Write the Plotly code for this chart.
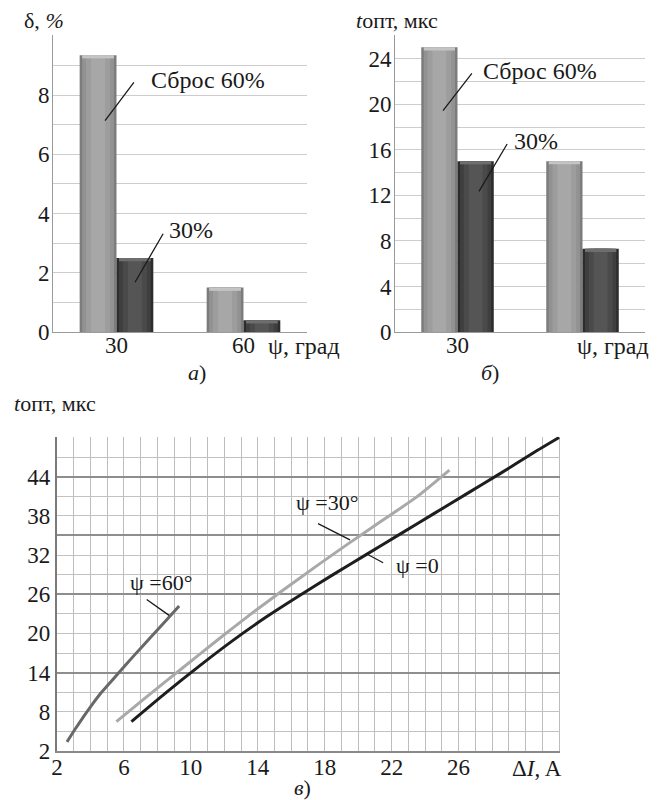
import plotly.graph_objects as go

# ---- data -------------------------------------------------------------
psi_pos = [0, 1]                 # bar group positions (ψ = 30°, 60°)
psi_labels = ["30", "60"]

delta_reset60 = [9.35, 1.5]      # δ, % — сброс 60%
delta_reset30 = [2.5, 0.4]       # δ, % — сброс 30%

topt_reset60 = [25.0, 15.0]      # t_опт, мкс — сброс 60%
topt_reset30 = [15.0, 7.3]       # t_опт, мкс — сброс 30%

psi0_x = [6.45, 8.5, 10.5, 12.5, 14.5, 16.5, 18.5, 20.5, 22.5, 24.5, 26.5, 28.5, 30.5, 32.0]
psi0_y = [6.5, 10.9, 15.0, 18.9, 22.5, 25.8, 29.0, 32.1, 35.2, 38.3, 41.4, 44.5, 47.7, 50.0]

psi30_x = [5.55, 7.5, 9.5, 11.5, 13.5, 15.5, 17.5, 19.5, 21.5, 23.5, 25.45]
psi30_y = [6.5, 10.6, 14.7, 18.8, 22.8, 26.6, 30.3, 33.9, 37.4, 40.9, 45.0]

psi60_x = [2.6, 3.1, 3.6, 4.1, 4.6, 5.6, 6.6, 7.6, 8.6, 9.3]
psi60_y = [3.4, 5.4, 7.3, 9.1, 10.8, 13.7, 16.6, 19.4, 22.2, 24.2]

x_ticks_c = [2, 6, 10, 14, 18, 22, 26]
y_ticks_c = [2, 8, 14, 20, 26, 32, 38, 44]
y_heavy_c = [14, 26, 35, 44]

# ---- styling ----------------------------------------------------------
FONT = "Times New Roman"
TXT = "#1a1a1a"
BAR_W = 0.29
LAYER_W = [0.29, 0.25, 0.19, 0.11]
LIGHT_PAL = ["#7c7c7c", "#929292", "#9d9d9d", "#a7a7a7"]
DARK_PAL = ["#2c2c2c", "#3f3f3f", "#4a4a4a", "#555555"]
LIGHT_CAP = "#c4c4c4"
DARK_CAP = "#6e6e6e"

fig = go.Figure()


def shaded_bars(xs, ys, shift, palette, cap_color, cap_h, xa, ya):
    """Bars built from nested layers, with a lighter rim on top."""
    for w, c in zip(LAYER_W, palette):
        fig.add_trace(go.Bar(
            x=xs, y=ys, width=w, offset=shift - w / 2,
            marker=dict(color=c, line=dict(width=0)),
            xaxis=xa, yaxis=ya, hoverinfo="skip", showlegend=False))
    w = LAYER_W[1]
    fig.add_trace(go.Bar(
        x=xs, y=[cap_h] * len(ys), base=[v - cap_h for v in ys],
        width=w, offset=shift - w / 2,
        marker=dict(color=cap_color, line=dict(width=0)),
        xaxis=xa, yaxis=ya, hoverinfo="skip", showlegend=False))


shaded_bars(psi_pos, delta_reset60, -BAR_W / 2, LIGHT_PAL, LIGHT_CAP, 0.11, "x", "y")
shaded_bars(psi_pos, delta_reset30, BAR_W / 2, DARK_PAL, DARK_CAP, 0.11, "x", "y")
shaded_bars(psi_pos, topt_reset60, -BAR_W / 2, LIGHT_PAL, LIGHT_CAP, 0.28, "x2", "y2")
shaded_bars(psi_pos, topt_reset30, BAR_W / 2, DARK_PAL, DARK_CAP, 0.28, "x2", "y2")

# curves of the bottom panel
for xs, ys, col in [(psi60_x, psi60_y, "#686868"),
                    (psi30_x, psi30_y, "#a9a9a9"),
                    (psi0_x, psi0_y, "#1e1e1e")]:
    fig.add_trace(go.Scatter(x=xs, y=ys, mode="lines",
                             line=dict(color=col, width=3, shape="spline", smoothing=0.6),
                             xaxis="x3", yaxis="y3", hoverinfo="skip", showlegend=False))

# carrier trace for the heavier grid axis
fig.add_trace(go.Scatter(x=[None], y=[None], xaxis="x3", yaxis="y4",
                         showlegend=False, hoverinfo="skip"))

tick_font = dict(family=FONT, size=23, color=TXT)
GRID = "#cdcdcd"
AXL = "#9a9a9a"

bar_x = dict(range=[-0.5, 1.5], tickvals=psi_pos, showgrid=False, zeroline=False,
             showline=True, linecolor=AXL, linewidth=1, ticks="",
             tickfont=tick_font, ticklabelstandoff=-8, fixedrange=True)

layout = dict(
    template="none",
    width=664, height=800,
    margin=dict(l=0, r=0, t=0, b=0),
    paper_bgcolor="white", plot_bgcolor="white",
    barmode="overlay",
    showlegend=False,
    font=dict(family=FONT, size=22, color=TXT),
    xaxis=dict(bar_x, domain=[0.0798, 0.4623], anchor="y", ticktext=psi_labels),
    xaxis2=dict(bar_x, domain=[0.5949, 0.9714], anchor="y2", ticktext=["30", ""]),
    yaxis=dict(domain=[0.585, 0.95625], anchor="x", range=[0, 10.03],
               tickvals=[0, 2, 4, 6, 8], showgrid=True, gridcolor=GRID,
               minor=dict(dtick=1, tick0=0, showgrid=True, gridcolor=GRID),
               zeroline=False, showline=True, linecolor=AXL, ticks="",
               tickfont=tick_font, ticklabelstandoff=-2),
    yaxis2=dict(domain=[0.585, 0.95625], anchor="x2", range=[0, 26.08],
                tickvals=[0, 4, 8, 12, 16, 20, 24], showgrid=True, gridcolor=GRID,
                minor=dict(dtick=2, tick0=0, showgrid=True, gridcolor=GRID),
                zeroline=False, showline=True, linecolor=AXL, ticks="",
                tickfont=tick_font, ticklabelstandoff=-2),
    xaxis3=dict(domain=[0.0858, 0.8434], anchor="y3", range=[2, 32.06],
                tickvals=x_ticks_c, showgrid=True, gridcolor="#bdbdbd",
                minor=dict(dtick=1, tick0=2, showgrid=True, gridcolor="#bdbdbd"),
                zeroline=False, showline=True, linecolor="#8a8a8a", linewidth=2,
                ticks="", tickfont=tick_font, ticklabelstandoff=-6),
    yaxis3=dict(domain=[0.06125, 0.454], anchor="x3", range=[2, 50.1],
                tickvals=y_ticks_c, showgrid=True, gridcolor="#c2c2c2",
                minor=dict(dtick=3, tick0=2, showgrid=True, gridcolor="#c2c2c2"),
                zeroline=False, showline=True, linecolor="#7a7a7a", linewidth=2,
                ticks="", tickfont=tick_font),
    yaxis4=dict(overlaying="y3", anchor="x3", range=[2, 50.1],
                tickvals=y_heavy_c, showticklabels=False, showgrid=True,
                gridcolor="#8e8e8e", gridwidth=2, zeroline=False, ticks=""),
)
fig.update_layout(**layout)

ann = []


def add_label(x, y, s, size=23, xref="paper", yref="paper"):
    ann.append(dict(x=x, y=y, xref=xref, yref=yref, text=s, showarrow=False,
                    font=dict(family=FONT, size=size, color=TXT),
                    xanchor="center", yanchor="middle"))


def leader(x0, y0, x1, y1, xref, yref):
    ann.append(dict(x=x0, y=y0, ax=x1, ay=y1, xref=xref, yref=yref,
                    axref=xref, ayref=yref, text="", showarrow=True,
                    arrowhead=0, arrowwidth=1.3, arrowcolor=TXT))


# panel а
add_label(0.72, 8.52, "Сброс 60%", 24, "x", "y")
leader(-0.09, 7.14, 0.146, 8.48, "x", "y")
add_label(0.587, 3.43, "30%", 24, "x", "y")
leader(0.146, 1.68, 0.374, 3.37, "x", "y")
add_label(0.0663, 0.975, "δ, <i>%</i>", 22)
add_label(0.458, 0.5675, "ψ, град", 24)
add_label(0.2967, 0.535, "<i>а</i>)", 22)

# panel б
add_label(0.66, 22.94, "Сброс 60%", 24, "x2", "y2")
leader(-0.116, 19.44, 0.124, 22.85, "x2", "y2")
add_label(0.624, 16.8, "30%", 24, "x2", "y2")
leader(0.172, 12.35, 0.404, 16.64, "x2", "y2")
add_label(0.598, 0.975, "<i>t</i>опт, мкс", 22)
add_label(0.923, 0.5675, "ψ, град", 24)
add_label(0.738, 0.535, "<i>б</i>)", 22)

# panel в
add_label(8.21, 27.8, "ψ =60°", 22, "x3", "y3")
leader(7.36, 25.2, 8.79, 22.6, "x3", "y3")
add_label(18.12, 40.0, "ψ =30°", 22, "x3", "y3")
leader(17.6, 36.8, 19.6, 34.2, "x3", "y3")
add_label(23.55, 30.4, "ψ =0", 22, "x3", "y3")
leader(20.49, 32.2, 21.58, 30.7, "x3", "y3")
ann.append(dict(x=30.66, y=0.04, xref="x3", yref="paper", text="Δ<i>I</i>, A",
                showarrow=False, font=dict(family=FONT, size=23, color=TXT),
                xanchor="center", yanchor="middle"))
add_label(0.0828, 0.496, "<i>t</i>опт, мкс", 22)
add_label(0.456, 0.016, "<i>в</i>)", 22)

fig.update_layout(annotations=ann)
fig.write_html("out.html")
